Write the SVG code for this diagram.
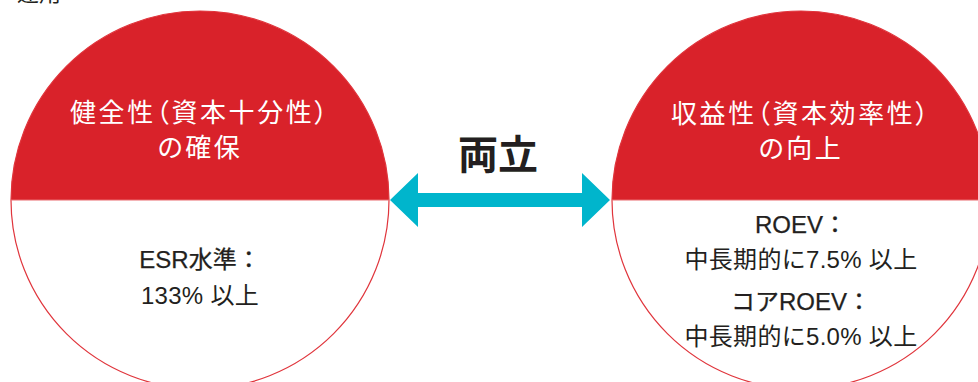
<svg xmlns="http://www.w3.org/2000/svg" width="978" height="382" viewBox="0 0 978 382">
<style>
.ttl{font-family:"Noto Sans CJK JP",sans-serif;font-size:26px;fill:#fff;text-anchor:middle;letter-spacing:2.6px;font-feature-settings:"palt"}
.lbl{font-family:"Liberation Sans","Noto Sans CJK JP",sans-serif;fill:#231f20;text-anchor:middle}
.b{font-size:24px;stroke:#231f20;stroke-width:0.25}
.n{font-size:24px;letter-spacing:0.3px}
.circ{fill:none;stroke:#e0353c;stroke-width:1.2}
</style>
<defs>
<clipPath id="topL"><rect x="0" y="0" width="978" height="200"/></clipPath>
</defs>
<rect width="978" height="382" fill="#fff"/>
<text x="17" y="0.5" font-family="Noto Sans CJK JP,sans-serif" font-size="22" fill="#231f20">運用</text>
<g id="left">
<circle cx="200" cy="200" r="189" fill="#fff"/>
<circle cx="200" cy="200" r="189" fill="#d9222a" clip-path="url(#topL)"/>
<circle cx="200" cy="200" r="189" class="circ"/>
<line x1="11" y1="200" x2="389" y2="200" stroke="#ea6a6f" stroke-width="1.2"/>
<text class="ttl" x="200" y="122">健全性（資本十分性）</text>
<text class="ttl" x="200" y="157">の確保</text>
<text class="lbl b" x="200" y="268">ESR水準：</text>
<text class="lbl n" x="200" y="304">133% 以上</text>
</g>
<g id="right">
<circle cx="801" cy="200" r="189" fill="#fff"/>
<circle cx="801" cy="200" r="189" fill="#d9222a" clip-path="url(#topL)"/>
<circle cx="801" cy="200" r="189" class="circ"/>
<line x1="612" y1="200" x2="990" y2="200" stroke="#ea6a6f" stroke-width="1.2"/>
<text class="ttl" x="801" y="123">収益性（資本効率性）</text>
<text class="ttl" x="801" y="158">の向上</text>
<text class="lbl b" x="801" y="233">ROEV：</text>
<text class="lbl n" x="801" y="268">中長期的に7.5% 以上</text>
<text class="lbl b" x="801" y="310">コアROEV：</text>
<text class="lbl n" x="801" y="345">中長期的に5.0% 以上</text>
</g>
<g id="connectors">
<polygon points="390,200 418,173 418,193 582,193 582,173 610,200 582,227 582,207 418,207 418,227" fill="#00b5cc"/>
<text x="498" y="169" font-family="Noto Sans CJK JP,sans-serif" font-size="40" font-weight="700" fill="#231f20" text-anchor="middle">両立</text>
</g>
</svg>
